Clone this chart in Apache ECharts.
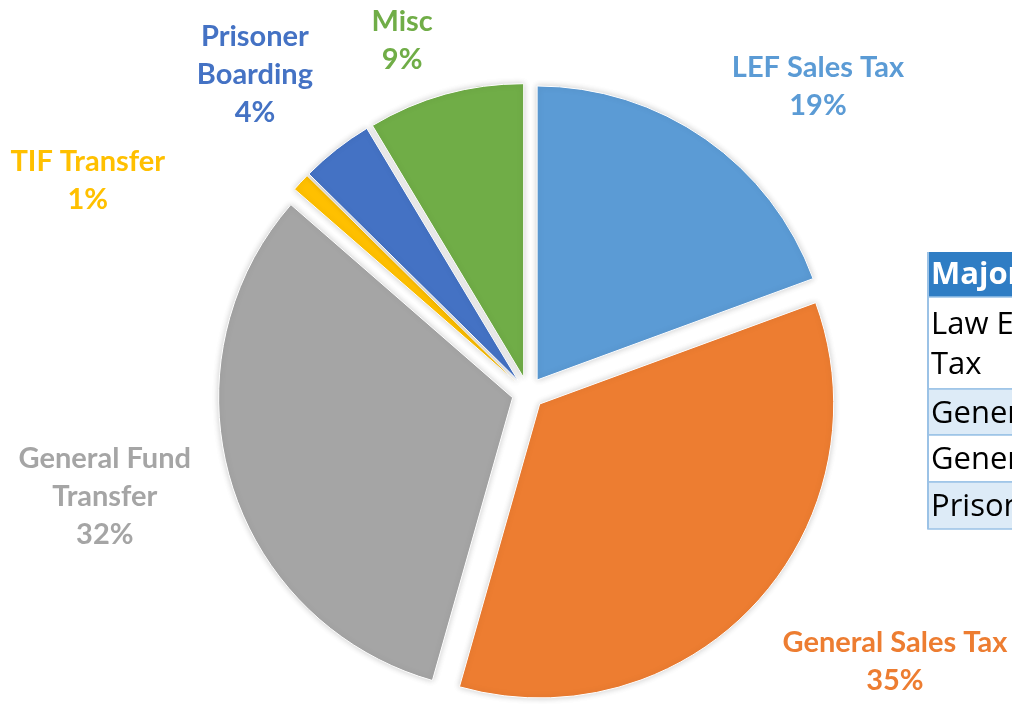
<!DOCTYPE html>
<html><head><meta charset="utf-8">
<script src="https://cdn.jsdelivr.net/npm/echarts@6/dist/echarts.min.js"></script>
<style>html,body{margin:0;padding:0;background:#fff;overflow:hidden}#c{width:1012px;height:707px}</style>
</head><body><div id="c"></div>
<script>
// ---- data ----
const categories = ['LEF Sales Tax', 'General Sales Tax', 'General Fund Transfer', 'TIF Transfer', 'Prisoner Boarding', 'Misc'];
const labelNames = ['LEF Sales Tax', 'General Sales Tax', 'General Fund\nTransfer', 'TIF Transfer', 'Prisoner\nBoarding', 'Misc'];
const values = [19.4, 35.0, 32.0, 1.0, 4.0, 8.6];
const colors = ['#5B9BD5', '#ED7D31', '#A5A5A5', '#FFC000', '#4472C4', '#70AD47'];
const tableHeader = 'Major Revenue Sources';
const tableRows = ['Law Enforcement Sales\nTax', 'General Sales Tax', 'General Fund Transfer', 'Prisoner Boarding'];

// ---- label placement style ----
const labelLen = [104, 140, 120, 154, 106, 64];
const labelShift = [[48, 33], [32, -37], [-6, -19], [-95, 103], [-11, 9], [-21, 8]];

const chart = echarts.init(document.getElementById('c'), null, {renderer: 'canvas'});

const data = categories.map((name, i) => ({
  name: name,
  value: values[i],
  selected: true,
  itemStyle: {color: colors[i]},
  label: {color: colors[i]},
  labelLine: {length: labelLen[i], length2: 0}
}));

// table graphic
const tX = 928, tW = 400;
const rowTops = [297, 389, 435, 482];
const rowHs = [92, 46, 47, 47];
const graphics = [];
graphics.push({type: 'rect', shape: {x: tX, y: 252, width: tW, height: 45}, style: {fill: '#2F7DC4'}, z: 1});
graphics.push({type: 'text', x: tX + 3, y: 275, style: {text: tableHeader, fill: '#fff', fontSize: 31, fontWeight: 'bold', fontFamily: 'Open Sans', verticalAlign: 'middle'}, z: 3});
tableRows.forEach((t, i) => {
  graphics.push({type: 'rect', shape: {x: tX, y: rowTops[i], width: tW, height: rowHs[i]},
    style: {fill: i % 2 === 1 ? '#DDEBF7' : '#FFFFFF', stroke: '#9BC2E6', lineWidth: 1.5}, z: 1});
  graphics.push({type: 'text', x: tX + 3, y: rowTops[i] + rowHs[i] / 2 + 2,
    style: {text: t, fill: '#000', fontSize: 31, fontFamily: 'Open Sans', lineHeight: 40, verticalAlign: 'middle'}, z: 3});
});
graphics.push({type: 'line', shape: {x1: tX, y1: 252, x2: tX, y2: 529}, style: {stroke: '#9BC2E6', lineWidth: 2}, z: 4});

chart.setOption({
  animation: false,
  backgroundColor: '#fff',
  graphic: graphics,
  series: [{
    type: 'pie',
    center: ['52.17%', '55.6%'],
    radius: 294,
    startAngle: 90,
    clockwise: true,
    selectedMode: 'multiple',
    selectedOffset: 16,
    avoidLabelOverlap: false,
    itemStyle: {borderColor: '#fff', borderWidth: 1, shadowBlur: 6, shadowColor: 'rgba(0,0,0,0.2)'},
    label: {
      show: true,
      position: 'outside',
      fontFamily: 'Lato',
      fontWeight: 'bold',
      fontSize: 29,
      lineHeight: 38,
      align: 'center',
      formatter: p => labelNames[p.dataIndex] + '\n' + Math.round(p.percent) + '%'
    },
    labelLine: {show: false},
    labelLayout: p => {
      const s = labelShift[p.dataIndex];
      return {dx: s[0], dy: s[1], align: 'center', verticalAlign: 'middle'};
    },
    emphasis: {disabled: true},
    data: data
  }]
});
</script>
</body></html>
